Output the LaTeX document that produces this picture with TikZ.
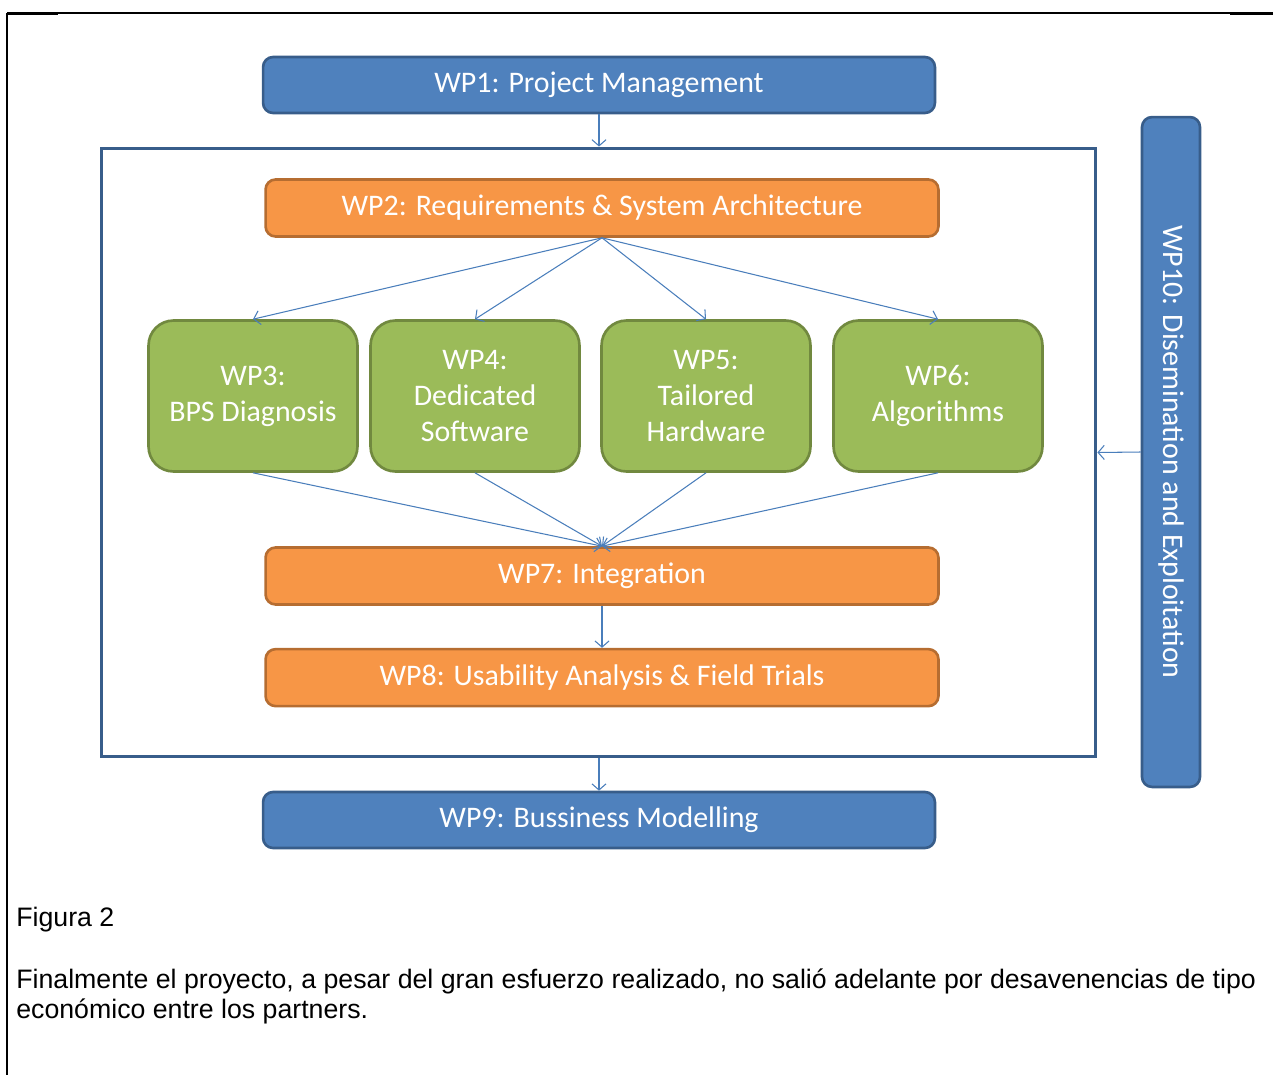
\documentclass[tikz,border=0pt]{standalone}
\usepackage{fontspec}
\setmainfont{Carlito}
\newfontfamily\capfont{Liberation Sans}
\usetikzlibrary{
  positioning,
  arrows.meta,
  calc
}

\definecolor{wpblue}{HTML}{4F81BD}
\definecolor{wpblueline}{HTML}{385D8A}
\definecolor{wporange}{HTML}{F79646}
\definecolor{wporangeline}{HTML}{B66D31}
\definecolor{wpgreen}{HTML}{9BBB59}
\definecolor{wpgreenline}{HTML}{71893F}
\definecolor{flowblue}{HTML}{4A7EBB}

\tikzset{
  wp/.style = {draw, line width=1.5pt, text=white, align=center, inner sep=0pt,
    font=\fontsize{17}{20.5}\selectfont},
  mgmt/.style = {wp, fill=wpblue, draw=wpblueline, rounded corners=0.2cm,
    minimum width=13.44cm, minimum height=1.12cm},
  task/.style = {wp, fill=wporange, draw=wporangeline, rounded corners=0.2cm,
    minimum width=13.46cm, minimum height=1.14cm},
  unit/.style = {wp, fill=wpgreen, draw=wpgreenline, rounded corners=0.5cm,
    minimum width=4.18cm, minimum height=3.02cm},
  flow/.style = {->, draw=flowblue, line width=0.6pt},
  caption/.style = {anchor=base west, inner sep=0pt,
    font=\capfont\fontsize{15.2}{17}\selectfont}
}

\begin{document}
\begin{tikzpicture}[x=0.02cm, y=-0.02cm, >={Straight Barb[length=3.5pt,width=8pt]}]
    \useasboundingbox (0,0) rectangle (1273,1075);

    % page rules
    \draw[line width=0.9pt] (7,13) -- (1273,13);
    \draw[line width=1.3pt] (7,14) -- (58,14);
    \draw[line width=1.3pt] (1230,14) -- (1273,14);
    \draw[line width=1.3pt] (7,13) -- (7,1075);

    \node[draw=wpblueline, line width=1.7pt, minimum width=19.9cm, minimum height=12.18cm]
      (frame) at (598.5,452.5) {};

    \node[mgmt] (wp1) at (599,85) {WP1: Project Management};
    \node[task] (wp2) at (602,208) {WP2: Requirements \& System Architecture};

    \node[unit] (wp3) at (253,396) {WP3:\\BPS Diagnosis};
    \node[unit] (wp4) at (475,396) {WP4:\\Dedicated\\Software};
    \node[unit] (wp5) at (706,396) {WP5:\\Tailored\\Hardware};
    \node[unit] (wp6) at (938,396) {WP6:\\Algorithms};

    \node[task] (wp7) at (602,576) {WP7: Integration};
    \node[task, below = 0.84cm of wp7] (wp8) {WP8: Usability Analysis \& Field Trials};
    \node[mgmt] (wp9) at (599,820) {WP9: Bussiness Modelling};

    \node[mgmt, rotate=-90, minimum width=13.4cm, minimum height=1.16cm]
      (wp10) at (1171,452) {WP10: Disemination and Exploitation};

    \draw[flow] (wp1.south) -- (wp1.south |- frame.north);
    \draw[flow] (wp9.north |- frame.south) -- (wp9.north);
    \draw[flow] (wp10.south) -- (frame.east);

    \foreach \w in {wp3,wp4,wp5,wp6} {
      \draw[flow] (wp2.south) -- (\w.north);
      \draw[flow] (\w.south) -- (wp7.north);
    }
    \draw[flow] (wp7.south) -- (wp8.north);

    \node[caption] (fig) at (16,926) {Figura 2};
    \node[caption] (par1) at (16,988) {Finalmente el proyecto, a pesar del gran esfuerzo realizado, no salió adelante por desavenencias de tipo};
    \node[caption] (par2) at (16,1018) {económico entre los partners.};
\end{tikzpicture}
\end{document}
